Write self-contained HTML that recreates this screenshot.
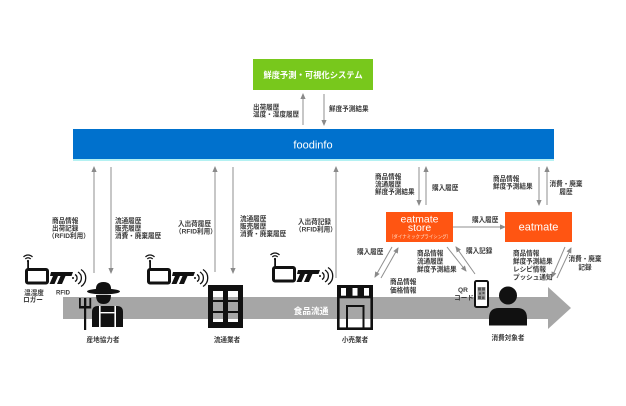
<!DOCTYPE html>
<html><head><meta charset="utf-8"><style>
html,body{margin:0;padding:0;background:#fff;}
svg{display:block;}
text{font-family:"Liberation Sans","Noto Sans CJK JP",sans-serif;}
.l{font-size:6.6px;font-weight:700;fill:#3a3a3a;}
.c{text-anchor:middle;}
</style></head><body>
<svg width="626" height="406" viewBox="0 0 626 406" xmlns="http://www.w3.org/2000/svg">
<defs>
<marker id="ah" markerWidth="6" markerHeight="6" refX="5" refY="3" orient="auto" markerUnits="userSpaceOnUse"><path d="M0,0.4 L6,3 L0,5.6 z" fill="#8a8a8a"/></marker>
</defs>
<rect width="626" height="406" fill="#fff"/>

<!-- green system box -->
<rect x="253" y="59" width="120" height="31" fill="#78C81C"/>
<text x="313" y="78" class="c" font-size="8.3" fill="#fff" font-weight="700">鮮度予測・可視化システム</text>

<!-- blue foodinfo -->
<rect x="73" y="129" width="481" height="30" fill="#0071CD"/>
<rect x="73" y="159" width="481" height="2" fill="#B4F1F2"/>
<text x="313" y="148.5" class="c" font-size="11" fill="#fff">foodinfo</text>

<!-- arrows -->
<g stroke="#8f8f8f" stroke-width="1" fill="none" marker-end="url(#ah)">
<line x1="303" y1="125" x2="303" y2="94"/>
<line x1="324" y1="94" x2="324" y2="125"/>
<line x1="94" y1="273" x2="94" y2="167"/>
<line x1="111" y1="167" x2="111" y2="273"/>
<line x1="215" y1="272" x2="215" y2="167"/>
<line x1="233" y1="167" x2="233" y2="273"/>
<line x1="336" y1="278" x2="336" y2="167"/>
<line x1="419" y1="167" x2="419" y2="205"/>
<line x1="426" y1="205" x2="426" y2="167"/>
<line x1="539" y1="167" x2="539" y2="205"/>
<line x1="547" y1="205" x2="547" y2="167"/>
<line x1="453" y1="227" x2="505" y2="227"/>
<line x1="392" y1="247" x2="375" y2="277"/>
<line x1="381" y1="278" x2="398" y2="248"/>
<line x1="447" y1="247" x2="466" y2="271"/>
<line x1="475" y1="274" x2="456" y2="247"/>
<line x1="565" y1="247" x2="552" y2="277"/>
<line x1="557" y1="278" x2="571" y2="248"/>
</g>

<!-- orange boxes -->
<rect x="386" y="212" width="67" height="30" fill="#FF5512"/>
<text x="419.5" y="222.5" class="c" font-size="10.5" fill="#fff">eatmate</text>
<text x="419.5" y="231" class="c" font-size="10.5" fill="#fff">store</text>
<text x="420" y="238.5" class="c" font-size="4.9" fill="#FFE0CC" textLength="62" lengthAdjust="spacingAndGlyphs">（ダイナミックプライシング）</text>
<rect x="505" y="212" width="67" height="30" fill="#FF5512"/>
<text x="538.5" y="230.5" class="c" font-size="11" fill="#fff">eatmate</text>

<!-- gray flow arrow -->
<rect x="63" y="297" width="487" height="22" fill="#A6A6A6"/>
<polygon points="548,287 571,308 548,329" fill="#A6A6A6"/>
<text x="311" y="314" class="c" font-size="8.7" fill="#fff" font-weight="700">食品流通</text>

<!-- labels -->
<g class="l">
<text x="253" y="109.5">出荷履歴</text>
<text x="253" y="116.5">温度・湿度履歴</text>
<text x="329" y="111">鮮度予測結果</text>

<text x="52" y="223">商品情報</text>
<text x="52" y="230.5">出荷記録</text>
<text x="48" y="238">（RFID利用）</text>

<text x="115" y="223">流通履歴</text>
<text x="115" y="230.5">販売履歴</text>
<text x="115" y="238">消費・廃棄履歴</text>

<text x="178" y="226">入出荷履歴</text>
<text x="175" y="233.5">（RFID利用）</text>

<text x="240" y="221">流通履歴</text>
<text x="240" y="228.5">販売履歴</text>
<text x="240" y="236">消費・廃棄履歴</text>

<text x="298" y="224">入出荷記録</text>
<text x="295" y="231.5">（RFID利用）</text>

<text x="375" y="179">商品情報</text>
<text x="375" y="186.5">流通履歴</text>
<text x="375" y="194">鮮度予測結果</text>
<text x="432" y="190">購入履歴</text>

<text x="472" y="222">購入履歴</text>

<text x="493" y="181">商品情報</text>
<text x="493" y="188.5">鮮度予測結果</text>
<text x="566" y="186" class="c">消費・廃棄</text>
<text x="566" y="194" class="c">履歴</text>

<text x="357" y="254">購入履歴</text>
<text x="390" y="284">商品情報</text>
<text x="390" y="292.5">価格情報</text>

<text x="417" y="255.5">商品情報</text>
<text x="417" y="263.5">流通履歴</text>
<text x="417" y="271.5">鮮度予測結果</text>
<text x="466" y="253">購入記録</text>

<text x="513" y="255.5">商品情報</text>
<text x="513" y="263.5">鮮度予測結果</text>
<text x="513" y="271.5">レシピ情報</text>
<text x="513" y="279.5">プッシュ通知</text>
<text x="585" y="261" class="c">消費・廃棄</text>
<text x="585" y="269.5" class="c">記録</text>

<text x="34" y="295" class="c">温湿度</text>
<text x="33" y="302" class="c">ロガー</text>
<text x="63" y="294.5" class="c" font-size="6">RFID</text>
<text x="103" y="342" class="c">産地協力者</text>
<text x="227" y="342" class="c">流通業者</text>
<text x="355" y="342" class="c">小売業者</text>
<text x="463" y="292" class="c">QR</text>
<text x="464" y="300" class="c">コード</text>
<text x="508" y="340" class="c">消費対象者</text>
</g>

<!-- logger icons -->
<g id="lg1">
  <g fill="none" stroke="#111" stroke-width="1.3">
    <path d="M23.5,257 A6,6 0 0 1 32.5,257"/>
    <path d="M25.3,259 A3.6,3.6 0 0 1 30.7,259"/>
  </g>
  <circle cx="28" cy="261" r="1.1" fill="#111"/>
  <rect x="27.2" y="261" width="1.8" height="8" fill="#111"/>
  <rect x="26.5" y="269.5" width="21" height="13.5" rx="1.5" fill="none" stroke="#111" stroke-width="3"/>
  <path d="M51,272 H73 L71.5,276 H65.5 L62,284 H57 L60.5,276 H58 L54.5,284 H49.5 L53,276 H50 Z" fill="#111"/>
  <g fill="none" stroke="#111" stroke-width="1.3">
    <path d="M75,274.5 A4,4 0 0 1 75,281.5"/>
    <path d="M78,272 A7,7 0 0 1 78,284"/>
    <path d="M81,269.5 A10,10 0 0 1 81,286.5"/>
  </g>
  <circle cx="73" cy="278" r="1" fill="#111"/>
</g>
<use href="#lg1" x="122" y="0"/>
<use href="#lg1" x="247" y="-2"/>

<!-- farmer -->
<g fill="#111">
  <path d="M96,291 Q95,282 103.5,282 Q112,282 111,291 Z"/>
  <ellipse cx="103.5" cy="291.5" rx="16.5" ry="2.8"/>
  <path d="M96,295 H111 Q111,304 103.5,304 Q96,304 96,295 Z"/>
  <path d="M92,327 V312 Q92,306 98,306 H117 Q123,306 123,312 V327 Z"/>
  <rect x="84" y="298" width="2.2" height="32"/>
  <path d="M79,298 H80.8 V306 H84 V298 H86.2 V306 H89.4 V298 H91.2 V308.5 H79 Z"/>
</g>
<g fill="#fff">
  <rect x="99" y="306" width="1.6" height="21"/>
  <rect x="114.4" y="306" width="1.6" height="21"/>
  <rect x="100.6" y="312" width="13.8" height="1.4"/>
</g>

<!-- distributor building -->
<path fill="#111" fill-rule="evenodd" d="M208,285 H243 V328 H208 Z
 M213,291 H223 V300 H213 Z M228,291 H238 V300 H228 Z
 M213,302 H223 V311 H213 Z M228,302 H238 V311 H228 Z
 M213,313 H223 V322 H213 Z M228,313 H238 V322 H228 Z"/>

<!-- retail store -->
<path fill="#111" fill-rule="evenodd" d="M337,285 H373 V298 H337 Z
 M341,288 H346 V296 H341 Z M352.5,288 H357.5 V296 H352.5 Z M364,288 H369 V296 H364 Z"/>
<rect x="338.3" y="297" width="33.4" height="31.7" fill="none" stroke="#111" stroke-width="2.6"/>
<rect x="347" y="306" width="16.5" height="23" fill="none" stroke="#111" stroke-width="2"/>

<!-- QR phone -->
<rect x="475" y="281" width="13" height="26" rx="1.5" fill="#fff" stroke="#111" stroke-width="2"/>
<rect x="477.5" y="287" width="8" height="13" fill="#9a9a9a"/>
<g fill="#555">
<rect x="478" y="287.5" width="3" height="3"/><rect x="482" y="287.5" width="3" height="3"/>
<rect x="478" y="296" width="3" height="3"/><rect x="482.5" y="292" width="2" height="2"/>
<rect x="479" y="292.5" width="2" height="2"/><rect x="482" y="296.5" width="2.5" height="2.5"/>
</g>

<!-- consumer -->
<circle cx="508" cy="295.5" r="9" fill="#111"/>
<path d="M489,325.5 V318 Q489,308 499,308 H517 Q527,308 527,318 V325.5 Z" fill="#111"/>
</svg>
</body></html>
